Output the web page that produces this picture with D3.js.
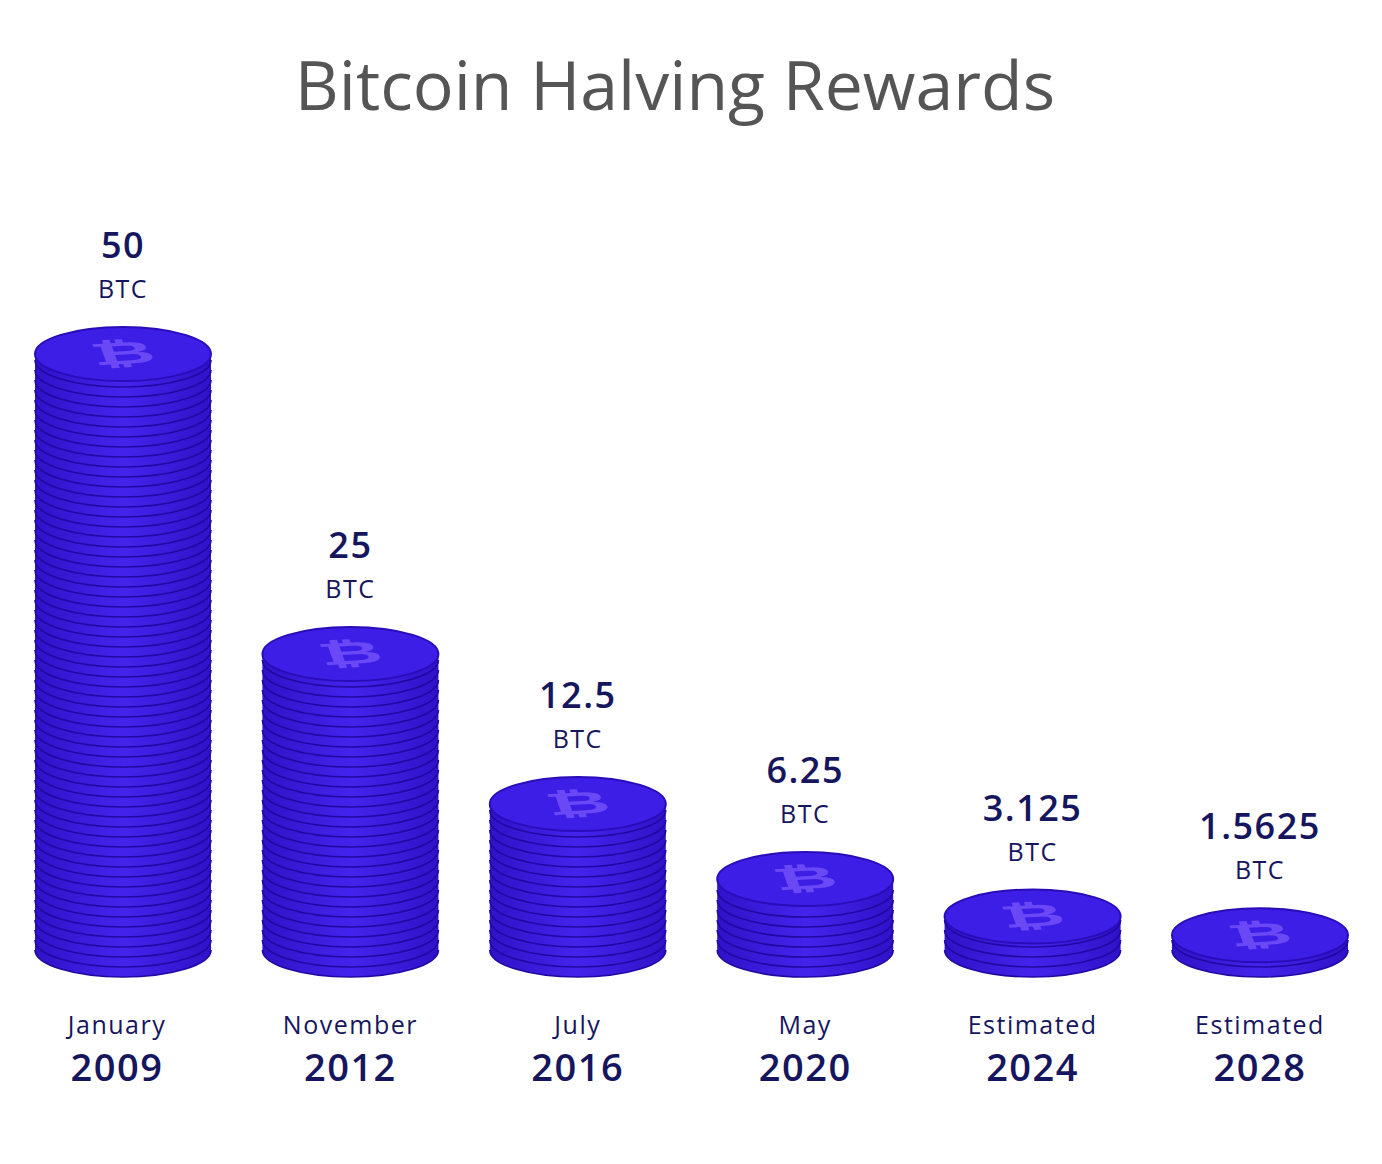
<!DOCTYPE html>
<html><head><meta charset="utf-8">
<script src="https://cdn.jsdelivr.net/npm/d3@7"></script>
<style>body{margin:0;background:#fff}</style></head>
<body><svg id="c" width="1382" height="1164"></svg>
<script>
const months = ["January","November","July","May","Estimated","Estimated"];
const years = ["2009","2012","2016","2020","2024","2028"];
const rewards = [50,25,12.5,6.25,3.125,1.5625];
const rewardLabels = ["50","25","12.5","6.25","3.125","1.5625"];

const svg = d3.select("#c");
const x = d3.scaleBand().domain(years).range([35,1348]).paddingInner(0.226).paddingOuter(0);
const h = d3.scaleLinear().domain([0,50]).range([0,600]);
const base = 950, rx = x.bandwidth()/2, ry = 27, thick = -4, step = 10;

svg.append("text").attr("x",675).attr("y",110).attr("text-anchor","middle")
  .attr("font-family","'Open Sans',sans-serif").attr("font-size",68).attr("fill","#555")
  .text("Bitcoin Halving Rewards");

const defs = svg.append("defs");
const g1 = defs.append("linearGradient").attr("id","side");
g1.append("stop").attr("offset","0").attr("stop-color","#2f12c8");
g1.append("stop").attr("offset","0.5").attr("stop-color","#4424ec");
g1.append("stop").attr("offset","1").attr("stop-color","#2f12c8");

years.forEach((yr,i)=>{
  const cx = x(yr)+rx;
  const H = h(rewards[i]) + thick;
  const top = base - H;
  const g = svg.append("g");
  g.append("path").attr("fill","url(#side)")
    .attr("d",`M${cx-rx},${top} L${cx-rx},${base} A${rx},${ry} 0 0 0 ${cx+rx},${base} L${cx+rx},${top} Z`);
  for(let yy=base; yy>top+2; yy-=step){
    g.append("path").attr("fill","none").attr("stroke","#2208a0").attr("stroke-width",1.6)
      .attr("d",`M${cx-rx},${yy} A${rx},${ry} 0 0 0 ${cx+rx},${yy}`);
  }
  g.append("ellipse").attr("cx",cx).attr("cy",top).attr("rx",rx).attr("ry",ry)
    .attr("fill","#3d1ee6").attr("stroke","#2a0cb8").attr("stroke-width",2);
  g.append("text").attr("x",cx).attr("y",top+18).attr("text-anchor","middle")
    .attr("font-family","'DejaVu Sans',sans-serif").attr("font-weight","bold").attr("font-size",56)
    .attr("fill","#6b48f5").attr("transform",`translate(${cx},${top}) scale(1.4,0.55) rotate(-8) translate(${-cx},${-top})`)
    .text("₿");
  svg.append("text").attr("x",cx).attr("y",top-96).attr("text-anchor","middle")
    .attr("font-family","'Open Sans',sans-serif").attr("font-size",36).attr("font-weight",600)
    .attr("fill","#16165e").attr("letter-spacing",1.5).text(rewardLabels[i]);
  svg.append("text").attr("x",cx).attr("y",top-56).attr("text-anchor","middle")
    .attr("font-family","'Open Sans',sans-serif").attr("font-size",25)
    .attr("fill","#16165e").attr("letter-spacing",1.5).text("BTC");
  svg.append("text").attr("x",cx-(i==0?6:0)).attr("y",1034).attr("text-anchor","middle")
    .attr("font-family","'Open Sans',sans-serif").attr("font-size",25)
    .attr("fill","#16165e").attr("letter-spacing",1.5).text(months[i]);
  svg.append("text").attr("x",cx-(i==0?6:0)).attr("y",1081).attr("text-anchor","middle")
    .attr("font-family","'Open Sans',sans-serif").attr("font-size",38).attr("font-weight",600)
    .attr("fill","#16165e").attr("letter-spacing",1.5).text(yr);
});
</script></body></html>
